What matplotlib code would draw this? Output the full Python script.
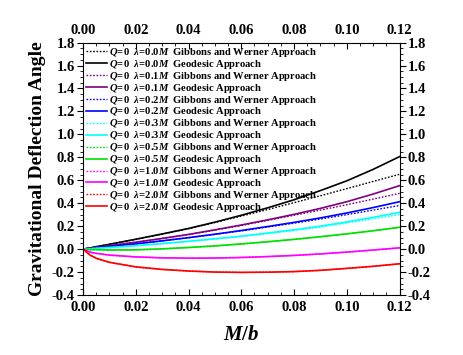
import matplotlib
matplotlib.use('Agg')
import matplotlib.pyplot as plt
from matplotlib.ticker import MultipleLocator, AutoMinorLocator

plt.rcParams.update({
    'font.family': ['Liberation Serif', 'DejaVu Serif'],
    'font.weight': 'bold',
    'mathtext.fontset': 'custom',
    'mathtext.rm': 'Liberation Serif:bold',
    'mathtext.it': 'Liberation Serif:italic:bold',
    'mathtext.bf': 'Liberation Serif:bold',
})

# M/b sample points
mb = [0.0, 0.0025, 0.005, 0.01, 0.02, 0.03, 0.04, 0.05, 0.06, 0.07, 0.08, 0.09, 0.10, 0.11, 0.12]

lambdas = ['0.0', '0.1', '0.2', '0.3', '0.5', '1.0', '2.0']
colors = ['black', '#800080', '#0000FF', '#00FFFF', '#00E000', '#FF00FF', '#FF0000']

# geodesic approach (solid)
geo_00 = [0, 0.010, 0.021, 0.042, 0.086, 0.132, 0.180, 0.235, 0.295, 0.360, 0.430, 0.510, 0.595, 0.695, 0.806]
geo_01 = [0, 0.007, 0.015, 0.030, 0.060, 0.093, 0.128, 0.168, 0.210, 0.255, 0.303, 0.355, 0.413, 0.480, 0.553]
geo_02 = [0, 0.005, 0.011, 0.022, 0.046, 0.072, 0.100, 0.130, 0.162, 0.197, 0.233, 0.272, 0.315, 0.362, 0.413]
geo_03 = [0, 0.003, 0.007, 0.014, 0.030, 0.048, 0.068, 0.090, 0.113, 0.140, 0.168, 0.200, 0.237, 0.277, 0.320]
geo_05 = [0, -0.004, -0.005, -0.008, -0.006, 0.002, 0.014, 0.028, 0.045, 0.064, 0.085, 0.108, 0.133, 0.160, 0.190]
geo_10 = [0, -0.025, -0.037, -0.052, -0.068, -0.076, -0.079, -0.078, -0.073, -0.065, -0.055, -0.042, -0.026, -0.008, 0.011]
geo_20 = [0, -0.050, -0.080, -0.115, -0.155, -0.177, -0.191, -0.200, -0.203, -0.201, -0.196, -0.185, -0.168, -0.150, -0.128]

# Gibbons and Werner approach (dotted)
gw_00 = [0, 0.010, 0.021, 0.042, 0.086, 0.131, 0.178, 0.232, 0.288, 0.345, 0.405, 0.465, 0.527, 0.590, 0.652]
gw_01 = [0, 0.007, 0.015, 0.030, 0.060, 0.093, 0.127, 0.166, 0.206, 0.250, 0.295, 0.340, 0.387, 0.436, 0.486]
gw_02 = [0, 0.005, 0.011, 0.022, 0.046, 0.072, 0.099, 0.128, 0.159, 0.192, 0.226, 0.262, 0.300, 0.340, 0.380]
gw_03 = [0, 0.003, 0.007, 0.014, 0.030, 0.048, 0.067, 0.088, 0.110, 0.135, 0.162, 0.192, 0.228, 0.265, 0.300]
gw_05 = geo_05
gw_10 = geo_10
gw_20 = geo_20

geo = [geo_00, geo_01, geo_02, geo_03, geo_05, geo_10, geo_20]
gw = [gw_00, gw_01, gw_02, gw_03, gw_05, gw_10, gw_20]

fig = plt.figure(figsize=(4.64, 3.55), dpi=100)
ax = fig.add_axes([0.179, 0.169, 0.682, 0.711])

for lam, c, g, w in zip(lambdas, colors, geo, gw):
    ax.plot(mb, w, color=c, lw=1.0, ls=(0, (1.2, 1.2)),
            label=r'$Q\!=\!0\ \ \lambda\!=\!%sM$  Gibbons and Werner Approach' % lam)
    ax.plot(mb, g, color=c, lw=1.2, ls='-',
            label=r'$Q\!=\!0\ \ \lambda\!=\!%sM$  Geodesic Approach' % lam)

ax.set_xlim(0, 0.12)
ax.set_ylim(-0.4, 1.8)
ax.xaxis.set_major_locator(MultipleLocator(0.02))
ax.yaxis.set_major_locator(MultipleLocator(0.2))
ax.xaxis.set_minor_locator(AutoMinorLocator(4))
ax.yaxis.set_minor_locator(AutoMinorLocator(4))
ax.xaxis.set_major_formatter(plt.FormatStrFormatter('%.2f'))
ax.yaxis.set_major_formatter(plt.FormatStrFormatter('%.1f'))

ax.tick_params(axis='x', which='both', direction='in', top=True, labeltop=True,
               labelsize=10.5, pad=4)
ax.tick_params(axis='y', which='both', direction='out', right=True, labelright=True,
               labelsize=10.5, pad=2)
ax.tick_params(which='major', length=4, width=0.8)
ax.tick_params(which='minor', length=2, width=0.6)
for lbl in ax.get_xticklabels() + ax.get_yticklabels():
    lbl.set_fontweight('bold')

ax.set_xlabel(r'$M/b$', fontsize=15, labelpad=9)
ax.set_ylabel('Gravitational Deflection Angle', fontsize=14, fontweight='bold', labelpad=4)

ax.legend(loc='upper left', frameon=False, handlelength=2.0,
          handletextpad=0.2, labelspacing=-0.1, borderaxespad=0.1, borderpad=0.2,
          prop={'weight': 'bold', 'size': 7.6})

fig.savefig('out.png', dpi=100)
